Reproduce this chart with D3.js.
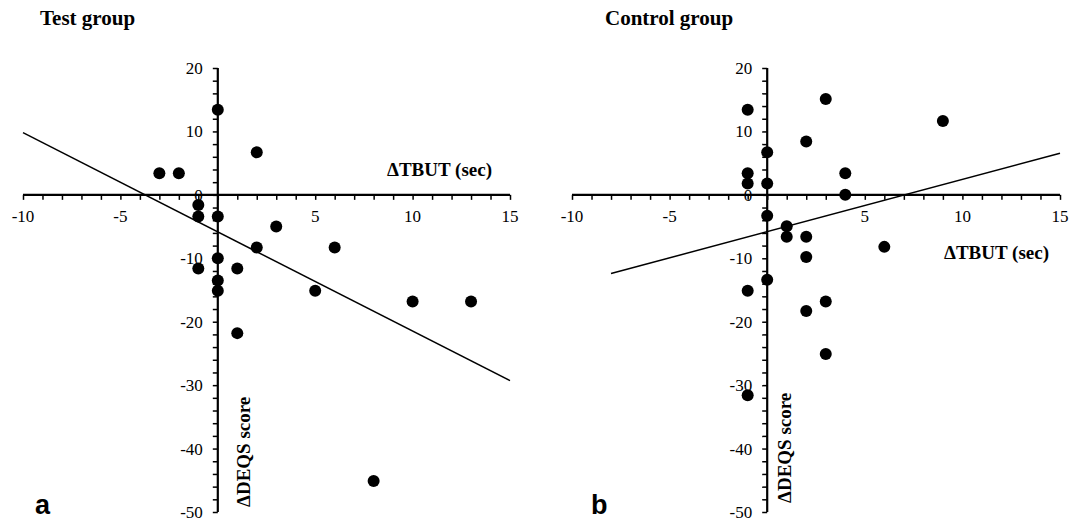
<!DOCTYPE html>
<html><head><meta charset="utf-8">
<script src="https://cdn.jsdelivr.net/npm/d3@7"></script>
<style>
html,body{margin:0;padding:0;background:#fff;}
svg{display:block;}
</style></head>
<body>
<script>
// ---- data ----
const testX = [0, 2, -3, -2, -1, -1, 0, 3, 2, 6, 0, -1, 1, 0, 0, 5, 10, 13, 1, 8];
const testY = [13.4, 6.7, 3.4, 3.4, -1.6, -3.4, -3.4, -5, -8.3, -8.3, -10, -11.6, -11.6, -13.5, -15.1, -15.1, -16.8, -16.8, -21.8, -45.1];
const testLineX = [-10, 15];
const testLineY = [9.8, -29.3];

const ctrlX = [-1, 3, 9, 2, 0, -1, -1, 0, 4, 4, 0, 1, 1, 2, 6, 2, 0, -1, 3, 2, 3, -1];
const ctrlY = [13.4, 15.1, 11.65, 8.4, 6.7, 3.4, 1.8, 1.8, 3.4, 0, -3.3, -4.95, -6.6, -6.6, -8.2, -9.8, -13.4, -15.1, -16.8, -18.3, -25.1, -31.6];
const ctrlLineX = [-8, 15];
const ctrlLineY = [-12.4, 6.55];

const xTickLabels = [-10, -5, 5, 10, 15];
const yTickLabels = [20, 10, 0, -10, -20, -30, -40, -50];
const titles = ["Test group", "Control group"];
const panelLetters = ["a", "b"];
const xAxisTitle = "\u0394TBUT (sec)";
const yAxisTitle = "\u0394DEQS score";

// ---- layout ----
const W = 1081, H = 521;
const svg = d3.select("body").append("svg").attr("width", W).attr("height", H);

const panels = [
  {xs: testX, ys: testY, lx: testLineX, ly: testLineY, xr: [23, 510], title: titles[0], titleX: 40,
   letter: panelLetters[0], letterX: 35, letterY: 514, xtX: 387, xtY: 176, ytX: 250, ytY: 507},
  {xs: ctrlX, ys: ctrlY, lx: ctrlLineX, ly: ctrlLineY, xr: [572, 1060], title: titles[1], titleX: 605,
   letter: panelLetters[1], letterX: 591, letterY: 514, xtX: 944, xtY: 259, ytX: 791, ytY: 503}
];

const serif = "'Liberation Serif','Times New Roman',serif";

panels.forEach(p => {
  const x = d3.scaleLinear().domain([-10, 15]).range(p.xr);
  const y = d3.scaleLinear().domain([20, -50]).range([68, 512]);
  const g = svg.append("g");

  // title
  g.append("text").attr("x", p.titleX).attr("y", 25)
    .attr("font-family", serif).attr("font-weight", "bold").attr("font-size", 21)
    .text(p.title);

  // panel letter
  g.append("text").attr("x", p.letterX).attr("y", p.letterY)
    .attr("font-family", "'Liberation Sans',Arial,sans-serif").attr("font-weight", "bold").attr("font-size", 27)
    .text(p.letter);

  // x axis at y=0
  const xAxis = d3.axisBottom(x).tickValues(d3.range(-10, 16, 1)).tickSize(5).tickFormat("");
  const xg = g.append("g").attr("transform", `translate(0,${y(0)})`).call(xAxis);
  xg.select(".domain").attr("stroke", "#000").attr("stroke-width", 2.2).attr("d", `M${p.xr[0]},0H${p.xr[1]}`);
  xg.selectAll(".tick line").attr("stroke", "#000").attr("stroke-width", 1.5);

  // x tick labels
  g.selectAll(".xl").data(xTickLabels).enter().append("text")
    .attr("x", d => x(d)).attr("y", y(0) + 27)
    .attr("text-anchor", "middle").attr("font-family", serif).attr("font-size", 17)
    .text(d => d);

  // y axis at x=0
  const yAxis = d3.axisLeft(y).tickValues(d3.range(-50, 21, 2)).tickSize(5).tickFormat("");
  const yg = g.append("g").attr("transform", `translate(${x(0)},0)`).call(yAxis);
  yg.select(".domain").attr("stroke", "#000").attr("stroke-width", 2.2).attr("d", `M0,${y(20)}V${y(-50)}`);
  yg.selectAll(".tick line").attr("stroke", "#000").attr("stroke-width", 1.5);

  // y tick labels
  g.selectAll(".yl").data(yTickLabels).enter().append("text")
    .attr("x", x(0) - 15).attr("y", d => y(d) + 6)
    .attr("text-anchor", "end").attr("font-family", serif).attr("font-size", 17)
    .text(d => d);

  // axis titles
  g.append("text").attr("x", p.xtX).attr("y", p.xtY)
    .attr("font-family", serif).attr("font-weight", "bold").attr("font-size", 19)
    .text(xAxisTitle);
  g.append("text").attr("transform", `translate(${p.ytX},${p.ytY}) rotate(-90)`)
    .attr("font-family", serif).attr("font-weight", "bold").attr("font-size", 19)
    .text(yAxisTitle);

  // trend line
  const lineData = p.lx.map((v, i) => [v, p.ly[i]]);
  g.append("path").datum(lineData)
    .attr("d", d3.line().x(d => x(d[0])).y(d => y(d[1])))
    .attr("stroke", "#000").attr("stroke-width", 1.5).attr("fill", "none");

  // points
  const pts = p.xs.map((v, i) => [v, p.ys[i]]);
  g.selectAll("circle").data(pts).enter().append("circle")
    .attr("cx", d => x(d[0])).attr("cy", d => y(d[1])).attr("r", 6)
    .attr("fill", "#000");
});
</script>
</body></html>
